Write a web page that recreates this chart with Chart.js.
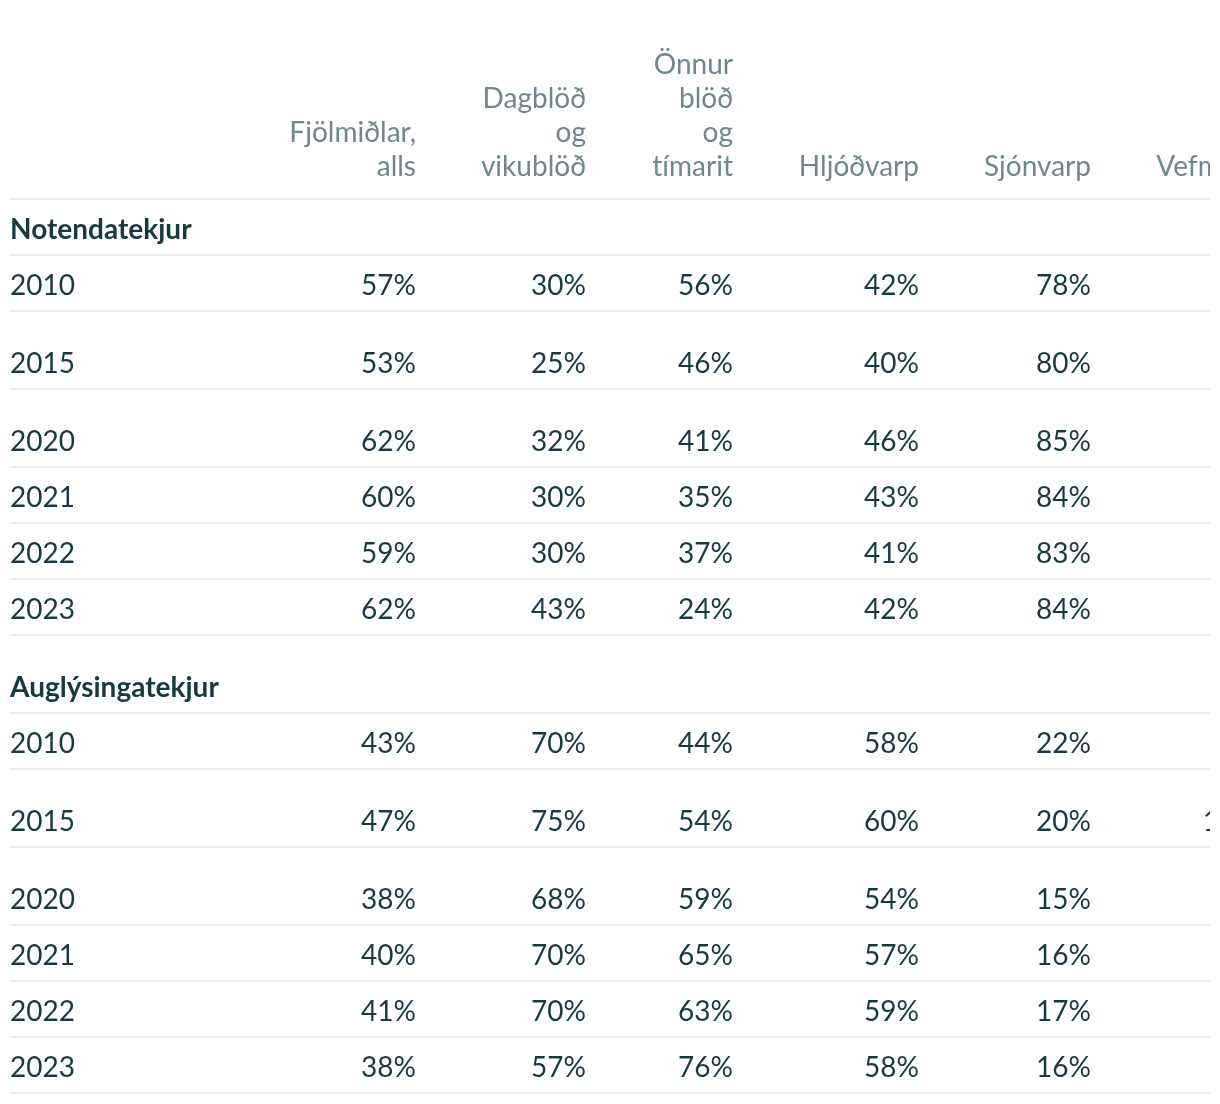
<!DOCTYPE html>
<html>
<head>
<meta charset="utf-8">
<script src="https://cdn.jsdelivr.net/npm/chart.js@4.4.1/dist/chart.umd.min.js"></script>
<style>
  html, body { margin: 0; padding: 0; background: #ffffff; }
  #wrap { width: 1220px; height: 1104px; position: relative; }
</style>
</head>
<body>
<div id="wrap"><canvas id="c"></canvas></div>
<script>
// ---------- DATA ----------
const columns = ['Fjölmiðlar, alls', 'Dagblöð og vikublöð', 'Önnur blöð og tímarit', 'Hljóðvarp', 'Sjónvarp', 'Vefmiðlar'];
const groups = ['Notendatekjur', 'Auglýsingatekjur'];
const years = ['2010', '2015', '2020', '2021', '2022', '2023'];

// Notendatekjur (user revenue), % per medium
const userAlls      = [57, 53, 62, 60, 59, 62];
const userDagblod   = [30, 25, 32, 30, 30, 43];
const userOnnur     = [56, 46, 41, 35, 37, 24];
const userHljodvarp = [42, 40, 46, 43, 41, 42];
const userSjonvarp  = [78, 80, 85, 84, 83, 84];
const userVefmidlar = [null, 0, null, null, null, null];   // column is cut off in the picture

// Auglýsingatekjur (advertising revenue), % per medium
const adAlls      = [43, 47, 38, 40, 41, 38];
const adDagblod   = [70, 75, 68, 70, 70, 57];
const adOnnur     = [44, 54, 59, 65, 63, 76];
const adHljodvarp = [58, 60, 54, 57, 59, 58];
const adSjonvarp  = [22, 20, 15, 16, 17, 16];
const adVefmidlar = [null, 100, null, null, null, null];    // column is cut off in the picture

const groupValues = [
  [userAlls, userDagblod, userOnnur, userHljodvarp, userSjonvarp, userVefmidlar],
  [adAlls, adDagblod, adOnnur, adHljodvarp, adSjonvarp, adVefmidlar]
];

// ---------- LAYOUT / STYLE ----------
const colRight = [406, 576, 723, 909, 1081, 1264];       // right edge of each value column (x units)
const headerHeight = 199;
const groupRowHeight = [56, 78];
const yearRowHeight = [56, 78, 78, 56, 56, 56];
const textOffset = 16.5;        // baseline above the row's bottom rule
const headerLineHeight = 34;
const headerBaselineOffset = 23;
const bodyColor = '#173a41';
const headerColor = '#6f878c';
const ruleColor = '#ececec';
const FONT = '28px Lato';
const BOLD = 'bold 28px Lato';

// row bottoms
const rowBottoms = [];
let acc = headerHeight;
const groupBottom = [], yearBottoms = [];
groups.forEach((g, gi) => {
  acc += groupRowHeight[gi]; groupBottom.push(acc); rowBottoms.push(acc);
  const yb = [];
  years.forEach((y, yi) => { acc += yearRowHeight[yi]; yb.push(acc); rowBottoms.push(acc); });
  yearBottoms.push(yb);
});
const rules = [headerHeight].concat(rowBottoms);

// ---------- DATASETS ----------
const datasets = [];
groups.forEach((g, gi) => {
  datasets.push({
    data: [{ x: 0, y: groupBottom[gi] - textOffset }],
    labels: [g], font: BOLD, textColor: bodyColor, align: 'left'
  });
  datasets.push({
    data: years.map((y, yi) => ({ x: 0, y: yearBottoms[gi][yi] - textOffset })),
    labels: years.slice(), font: FONT, textColor: bodyColor, align: 'left'
  });
  groupValues[gi].forEach((vals, ci) => {
    datasets.push({
      data: vals.map((v, yi) => ({ x: colRight[ci], y: yearBottoms[gi][yi] - textOffset })),
      labels: vals.map(v => v == null ? null : v + '%'),
      font: FONT, textColor: bodyColor, align: 'right'
    });
  });
});
datasets.forEach(d => { d.pointRadius = 0; d.pointHoverRadius = 0; d.showLine = false; });

const tablePlugin = {
  id: 'tableText',
  afterDatasetsDraw(chart) {
    const ctx = chart.ctx, area = chart.chartArea;
    const xs = chart.scales.x, ys = chart.scales.y;
    ctx.save();
    ctx.beginPath(); ctx.rect(0, 0, area.right, chart.height); ctx.clip();
    ctx.textBaseline = 'alphabetic';
    if ('letterSpacing' in ctx) ctx.letterSpacing = '0.01px';   // avoid ligatures
    chart.data.datasets.forEach((ds, di) => {
      const meta = chart.getDatasetMeta(di);
      ctx.font = ds.font; ctx.fillStyle = ds.textColor; ctx.textAlign = ds.align;
      meta.data.forEach((pt, i) => {
        const t = ds.labels[i];
        if (t == null) return;
        ctx.fillText(t, pt.x, pt.y);
      });
    });
    // column headers, one word per line, bottom aligned
    ctx.font = FONT; ctx.fillStyle = headerColor; ctx.textAlign = 'right';
    columns.forEach((c, ci) => {
      const words = c.split(' ');
      const x = xs.getPixelForValue(colRight[ci]);
      words.forEach((w, k) => {
        const v = headerHeight - headerBaselineOffset - (words.length - 1 - k) * headerLineHeight;
        ctx.fillText(w, x, ys.getPixelForValue(v));
      });
    });
    ctx.restore();
  }
};

function build() {
  new Chart(document.getElementById('c'), {
    type: 'scatter',
    data: { datasets },
    options: {
      responsive: true,
      maintainAspectRatio: false,
      animation: false,
      events: [],
      layout: { padding: { left: 10, right: 10, top: 0, bottom: 0 } },
      plugins: { legend: { display: false }, tooltip: { enabled: false } },
      scales: {
        x: { type: 'linear', min: 0, max: 1200, display: false },
        y: {
          type: 'linear', min: 0, max: 1104, reverse: true,
          afterBuildTicks: (axis) => { axis.ticks = rules.map(v => ({ value: v })); },
          afterFit: (axis) => { axis.width = 0; },
          ticks: { display: false },
          border: { display: false },
          grid: { color: ruleColor, lineWidth: 2, drawTicks: false }
        }
      }
    },
    plugins: [tablePlugin]
  });
}
if (document.fonts && document.fonts.load) {
  Promise.all([document.fonts.load(FONT), document.fonts.load(BOLD)]).then(build, build);
} else build();
</script>
</body>
</html>
